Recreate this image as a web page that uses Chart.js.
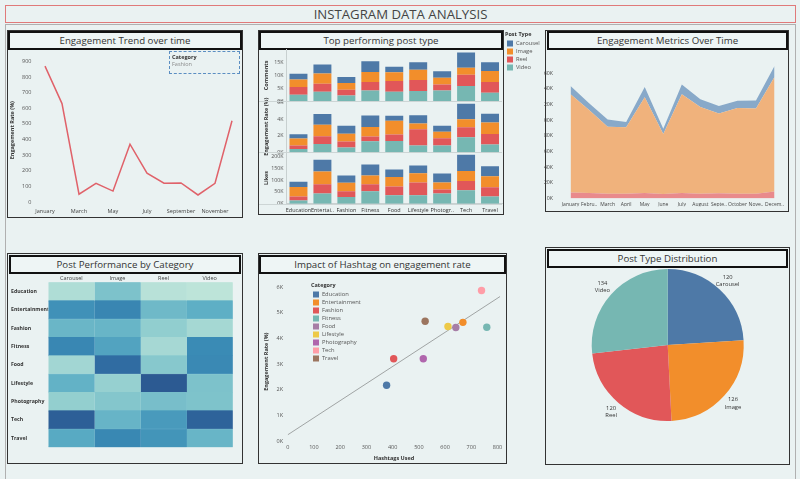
<!DOCTYPE html>
<html>
<head>
<meta charset="utf-8">
<title>Instagram Data Analysis</title>
<script src="https://cdn.jsdelivr.net/npm/chart.js@4.4.1/dist/chart.umd.min.js"></script>
<style>
  body { margin:0; width:800px; height:479px; background:#eaf2f2; position:relative; overflow:hidden; font-family:"Open Sans", sans-serif; color:#333; }
  .frame { position:absolute; box-sizing:border-box; }
  .panel { position:absolute; box-sizing:border-box; border:1px solid #333; }
  .head { position:absolute; box-sizing:border-box; border:2px solid #111; text-align:center; font-size:9.7px; line-height:15px; color:#333; background:#eef5f5; }
  canvas { position:absolute; }
  #filter { position:absolute; left:169px; top:51px; width:71px; height:23px; box-sizing:border-box; border:1px dashed #5b8ec2; font-size:5.5px; line-height:7px; padding:2px 0 0 2px; }
</style>
</head>
<body>
<div class="frame" style="left:5px;top:5px;width:791px;height:18px;border:1px solid #e07a7a;text-align:center;font-size:13.2px;line-height:17px;color:#444">INSTAGRAM DATA ANALYSIS</div>
<div class="frame" style="left:5px;top:24px;width:791px;height:460px;border:1px solid #b0b0b0"></div>

<div class="panel" style="left:7px;top:30px;width:236px;height:188px"></div>
<div class="head" style="left:8px;top:31px;width:234px;height:19px">Engagement Trend over time</div>
<canvas id="trend" width="232" height="166" style="left:9px;top:50px"></canvas>
<div id="filter"><b style="color:#333">Category</b><br><span style="color:#8a8a8a">Fashion</span></div>

<div class="panel" style="left:258px;top:30px;width:246px;height:185px"></div>
<div class="head" style="left:259px;top:31px;width:244px;height:19px">Top performing post type</div>
<canvas id="types" width="285" height="184" style="left:259px;top:31px"></canvas>

<div class="panel" style="left:545px;top:30px;width:244px;height:182px"></div>
<div class="head" style="left:547px;top:31px;width:241px;height:19px">Engagement Metrics Over Time</div>
<canvas id="metrics" width="243" height="160" style="left:544px;top:50px"></canvas>

<div class="panel" style="left:7px;top:253px;width:236px;height:211px"></div>
<div class="head" style="left:9px;top:255px;width:232px;height:19px">Post Performance by Category</div>
<canvas id="heat" width="232" height="188" style="left:9px;top:274px"></canvas>

<div class="panel" style="left:258px;top:253px;width:249px;height:211px"></div>
<div class="head" style="left:259px;top:255px;width:247px;height:19px">Impact of Hashtag on engagement rate</div>
<canvas id="hashtag" width="245" height="188" style="left:260px;top:274px"></canvas>

<div class="panel" style="left:545px;top:247px;width:245px;height:218px"></div>
<div class="head" style="left:547px;top:249px;width:241px;height:19px">Post Type Distribution</div>
<canvas id="share" width="240" height="194" style="left:547px;top:268px"></canvas>

<script>
// ---- data ----
const months = ['January','February','March','April','May','June','July','August','September','October','November','December'];
const fashionEngagement = [870, 630, 50, 120, 70, 370, 185, 120, 122, 45, 120, 520];

const categories = ['Education','Entertainment','Fashion','Fitness','Food','Lifestyle','Photography','Tech','Travel'];
const categoryTicks = ['Education','Entertai..','Fashion','Fitness','Food','Lifestyle','Photogr..','Tech','Travel'];
const postTypes = ['Carousel','Image','Reel','Video'];
const typeColors = ['#4e79a7','#f28e2b','#e15759','#76b7b2'];

const commentsCarousel = [2180, 3460, 2310, 4230, 2050, 2950, 2560, 5900, 3460];
const commentsImage    = [2950, 3970, 2560, 3850, 3460, 3970, 2560, 2690, 4230];
const commentsReel     = [2940, 3080, 2180, 3210, 4100, 4230, 2310, 4360, 4100];
const commentsVideo    = [2440, 3590, 2180, 4100, 3590, 3850, 4100, 5770, 3210];

const erCarousel = [500, 1290, 950, 1390, 600, 990, 710, 1870, 1070];
const erImage    = [840, 1400, 960, 1130, 1680, 690, 800, 970, 1380];
const erReel     = [440, 920, 720, 570, 780, 1950, 870, 1210, 1260];
const erVideo    = [400, 1020, 580, 1350, 1370, 840, 830, 1820, 960];

const likesCarousel = [23000, 50000, 31000, 47000, 32000, 33000, 39000, 69000, 43000];
const likesImage    = [40000, 54000, 36000, 37000, 41000, 40000, 29000, 43000, 47000];
const likesReel     = [17000, 40000, 24000, 30000, 37000, 54000, 18000, 40000, 39000];
const likesVideo    = [14000, 43000, 29000, 53000, 36000, 36000, 43000, 57000, 31000];

const monthTicks = ['January','Febru..','March','April','May','June','July','August','Septe..','October','Nove..','Decem..'];
const sharesByMonth   = [7800, 7000, 6300, 6300, 7000, 5900, 7000, 6300, 6700, 6300, 6300, 9000];
const likesByMonth    = [125200, 106000, 85500, 84700, 122400, 76500, 126000, 110600, 101900, 109400, 108700, 146000];
const commentsByMonth = [10500, 8600, 9000, 6600, 13000, 6600, 12500, 9800, 9400, 9000, 10000, 14000];

const hashtagsUsed = [377, 668, 404, 759, 641, 611, 517, 739, 524];
const hashtagEngagement = [2180, 4630, 3210, 4440, 4430, 4470, 3210, 5870, 4670];
const categoryColors = ['#4e79a7','#f28e2b','#e15759','#76b7b2','#a77ea6','#edc948','#b066ad','#ff9da7','#9c755f'];

const postCounts = [120, 126, 120, 134];

// ---- shared setup ----
Chart.defaults.font.family = '"Open Sans", sans-serif';
Chart.defaults.font.size = 6;
Chart.defaults.color = '#555';
Chart.defaults.animation = false;
Chart.defaults.responsive = false;
Chart.defaults.devicePixelRatio = 1;
Chart.defaults.plugins.tooltip.enabled = false;
Chart.defaults.plugins.legend.display = false;

const noGrid = { display: false, drawTicks: false };
const noBorder = { display: false };
const kFmt = v => (v / 1000) + 'K';
const axisTitle = (text, pad) => ({ display: true, text: text, color: '#333', font: { size: 5.5, weight: 'bold' }, padding: pad });
// ticks on whole steps from 0, not stretched to the axis max
const stepTicks = step => s => {
  const t = [];
  for (let v = 0; v <= s.max + 1e-9; v += step) t.push({ value: v });
  s.ticks = t;
};

// put a legend at a fixed spot of the canvas
const legendAt = {
  id: 'legendAt',
  afterLayout(chart, args, opts) {
    const lg = chart.legend;
    if (!lg || opts.x == null) return;
    const w = lg.width, h = lg.height;
    lg.left = opts.x; lg.top = opts.y;
    lg.right = opts.x + w; lg.bottom = opts.y + h;
  }
};

// 1. engagement trend
new Chart(document.getElementById('trend'), {
  type: 'line',
  data: { labels: months, datasets: [{ data: fashionEngagement, borderColor: '#e0626a', borderWidth: 1.5, pointRadius: 0, tension: 0 }] },
  options: {
    layout: { padding: { left: 0.5, right: 0.5, top: 1, bottom: 0 } },
    scales: {
      x: { offset: true, grid: noGrid, border: noBorder,
           ticks: { autoSkip: false, maxRotation: 0, padding: 6, color: '#444', font: { size: 5.5 }, callback: (v, i) => i % 2 === 0 ? months[i] : '' },
           afterFit: s => { s.height = 14; } },
      y: { min: 0, max: 920, grid: noGrid, border: noBorder,
           afterBuildTicks: stepTicks(100),
           ticks: { padding: 5, font: { size: 5.5 } },
           title: axisTitle('Engagement Rate (%)', { top: 0, bottom: 2 }),
           afterFit: s => { s.width = 27; } }
    }
  }
});

// 2. top performing post type (three stacked rows)
const rows = [
  { id: 'yC', title: 'Comments', max: 19800, step: 5000, sets: [commentsCarousel, commentsImage, commentsReel, commentsVideo] },
  { id: 'yE', title: 'Engagement Rate (%)', max: 6200, step: 2000, sets: [erCarousel, erImage, erReel, erVideo] },
  { id: 'yL', title: 'Likes', max: 219000, step: 50000, sets: [likesCarousel, likesImage, likesReel, likesVideo] }
];
const typeDatasets = [];
rows.forEach(r => {
  [3, 2, 1, 0].forEach(i => {
    typeDatasets.push({ label: postTypes[i], data: r.sets[i], backgroundColor: typeColors[i], yAxisID: r.id,
                        barPercentage: 0.75, categoryPercentage: 1 });
  });
});
const typeScales = {
  x: { stacked: true, grid: noGrid, border: { display: true, color: '#c8d0d0' },
       ticks: { autoSkip: false, maxRotation: 0, padding: 3, color: '#333', font: { size: 5.5 }, callback: (v, i) => categoryTicks[i] },
       afterFit: s => { s.height = 11.3; } }
};
// left stacked axes are laid out last-first, so add them bottom row first
rows.slice().reverse().forEach(r => {
  typeScales[r.id] = {
    type: 'linear', position: 'left', stack: 'rows', stackWeight: 1, stacked: true,
    min: 0, max: r.max, grid: noGrid, border: { display: true, color: '#c8d0d0' },
    afterBuildTicks: stepTicks(r.step),
    ticks: { autoSkip: false, padding: 3, font: { size: 5.3 }, callback: kFmt },
    title: axisTitle(r.title, { top: 2.4, bottom: 1 }),
    afterFit: s => { s.width = 25.5; }
  };
});
const rowLines = {
  id: 'rowLines',
  beforeDatasetsDraw(chart) {
    const { ctx, chartArea } = chart;
    ctx.save();
    ctx.strokeStyle = '#cdd5d5';
    ctx.lineWidth = 1;
    Object.values(chart.scales).filter(s => s.axis === 'y').forEach(s => {
      const y = Math.round(s.bottom) + 0.5;
      ctx.beginPath(); ctx.moveTo(0, y); ctx.lineTo(chartArea.right, y); ctx.stroke();
    });
    ctx.restore();
  }
};
new Chart(document.getElementById('types'), {
  type: 'bar',
  data: { labels: categories, datasets: typeDatasets },
  options: {
    layout: { padding: { left: 2, right: 42, top: 18.7, bottom: 0 } },
    scales: typeScales,
    plugins: {
      legend: { display: true, position: 'chartArea', align: 'start', reverse: true,
        title: { display: true, text: 'Post Type', position: 'start', color: '#333', font: { size: 5.5, weight: 'bold' }, padding: { top: 0, bottom: 0 } },
        labels: { boxWidth: 6, boxHeight: 6, padding: 2, color: '#555', font: { size: 5.8 },
                  filter: item => item.datasetIndex < 4 } },
      legendAt: { x: 246, y: 1 }
    }
  },
  plugins: [legendAt, rowLines]
});

// 3. engagement metrics over time (stacked area)
const areaSet = (label, data, color, fill) => ({ label, data, backgroundColor: color, borderWidth: 0, pointRadius: 0, tension: 0, fill });
new Chart(document.getElementById('metrics'), {
  type: 'line',
  data: { labels: months, datasets: [
    areaSet('Shares', sharesByMonth, '#e98a8c', 'origin'),
    areaSet('Likes', likesByMonth, '#f0b27c', '-1'),
    areaSet('Comments', commentsByMonth, '#88a9c9', '-1')
  ] },
  options: {
    layout: { padding: { left: 0, right: 0.9, top: 0, bottom: 0 } },
    scales: {
      x: { offset: true, grid: noGrid, border: noBorder,
           ticks: { autoSkip: false, maxRotation: 0, padding: 3, color: '#444', font: { size: 5 }, callback: (v, i) => monthTicks[i] },
           afterFit: s => { s.height = 7.7; } },
      y: { stacked: true, min: 0, max: 175000, grid: noGrid, border: noBorder,
           afterBuildTicks: stepTicks(20000),
           ticks: { autoSkip: false, padding: 8.3, color: '#444', font: { size: 5.2 }, callback: kFmt },
           afterFit: s => { s.width = 17.3; } }
    }
  }
});

// 4. heatmap of engagement rate
const erByType = [erCarousel, erImage, erReel, erVideo];
const allEr = erByType.flat();
const erMin = Math.min(...allEr), erMax = Math.max(...allEr);
const heatStops = ['#bde4d9', '#93cfcf', '#5eafc5', '#3b8db6', '#316fa4', '#2c5a92'];
function heatColor(v) {
  const t = Math.max(0, Math.min(1, (v - erMin) / (erMax - erMin))) * (heatStops.length - 1);
  const i = Math.min(Math.floor(t), heatStops.length - 2), f = t - i;
  const a = heatStops[i], b = heatStops[i + 1];
  const ch = k => Math.round(parseInt(a.substr(k, 2), 16) * (1 - f) + parseInt(b.substr(k, 2), 16) * f);
  return 'rgb(' + ch(1) + ',' + ch(3) + ',' + ch(5) + ')';
}
new Chart(document.getElementById('heat'), {
  type: 'bar',
  data: { labels: categories, datasets: postTypes.map((t, i) => ({
    label: t, data: categories.map(() => 1),
    backgroundColor: erByType[i].map(heatColor), borderColor: erByType[i].map(heatColor), borderWidth: 0.5,
    barPercentage: 1, categoryPercentage: 1 })) },
  options: {
    indexAxis: 'y',
    layout: { padding: { left: 2, right: 8.3, top: 0, bottom: 14.7 } },
    scales: {
      x: { stacked: true, position: 'top', min: 0, max: postTypes.length, grid: noGrid, border: noBorder,
           afterBuildTicks: s => { s.ticks = postTypes.map((t, i) => ({ value: i + 0.5 })); },
           ticks: { padding: 1, color: '#444', font: { size: 5.5 }, callback: (v, i) => postTypes[i] },
           afterFit: s => { s.height = 8.3; } },
      y: { stacked: true, grid: noGrid, border: noBorder,
           ticks: { crossAlign: 'far', color: '#333', font: { size: 5.2, weight: 'bold' } },
           afterFit: s => { s.width = 37.3; } }
    }
  }
});

// 5. hashtags vs engagement rate
const hashMax = 810;
const n = hashtagsUsed.length;
const mx = hashtagsUsed.reduce((a, b) => a + b, 0) / n;
const my = hashtagEngagement.reduce((a, b) => a + b, 0) / n;
let sxy = 0, sxx = 0;
hashtagsUsed.forEach((x, i) => { sxy += (x - mx) * (hashtagEngagement[i] - my); sxx += (x - mx) * (x - mx); });
const slope = sxy / sxx, intercept = my - slope * mx;
const hashDatasets = categories.map((c, i) => ({
  type: 'scatter', label: c, data: [{ x: hashtagsUsed[i], y: hashtagEngagement[i] }],
  backgroundColor: categoryColors[i], borderWidth: 0, pointRadius: 3.7, order: 0 }));
hashDatasets.push({ type: 'line', label: '', data: [{ x: 0, y: intercept }, { x: hashMax, y: intercept + slope * hashMax }],
  borderColor: '#a0a4a4', borderWidth: 1, pointRadius: 0, order: 10 });
new Chart(document.getElementById('hashtag'), {
  type: 'scatter',
  data: { datasets: hashDatasets },
  options: {
    layout: { padding: { left: 0, right: 0.6, top: 1.8, bottom: 0 } },
    scales: {
      x: { type: 'linear', min: 0, max: hashMax, grid: noGrid, border: noBorder,
           afterBuildTicks: stepTicks(100),
           ticks: { padding: 2.7, font: { size: 5.5 } },
           title: axisTitle('Hashtags Used', { top: 1, bottom: 0 }),
           afterFit: s => { s.height = 20.7; } },
      y: { min: 0, max: 6200, grid: noGrid, border: noBorder,
           afterBuildTicks: stepTicks(1000),
           ticks: { padding: 4.7, font: { size: 5.5 }, callback: kFmt },
           title: axisTitle('Engagement Rate (%)', { top: 3, bottom: 1 }),
           afterFit: s => { s.width = 27.7; } }
    },
    plugins: {
      legend: { display: true, position: 'chartArea', align: 'start',
        title: { display: true, text: 'Category', position: 'start', color: '#333', font: { size: 5.5, weight: 'bold' }, padding: { top: 0, bottom: 0 } },
        labels: { boxWidth: 6, boxHeight: 6, padding: 2, color: '#555', font: { size: 5.8 }, filter: item => item.text !== '' } },
      legendAt: { x: 51, y: 9 }
    }
  },
  plugins: [legendAt]
});

// 6. post type distribution
const pieLabels = {
  id: 'pieLabels',
  afterDatasetsDraw(chart) {
    const { ctx } = chart;
    const meta = chart.getDatasetMeta(0);
    ctx.save();
    ctx.font = '5.8px "Open Sans", sans-serif';
    ctx.fillStyle = '#333';
    ctx.textAlign = 'center';
    ctx.textBaseline = 'middle';
    meta.data.forEach((arc, i) => {
      const p = arc.getProps(['x', 'y', 'startAngle', 'endAngle', 'outerRadius'], true);
      const a = (p.startAngle + p.endAngle) / 2, r = p.outerRadius + 11.5;
      const lx = p.x + Math.cos(a) * r, ly = p.y + Math.sin(a) * r;
      ctx.fillText(String(chart.data.datasets[0].data[i]), lx, ly - 3.6);
      ctx.fillText(chart.data.labels[i], lx, ly + 3.6);
    });
    ctx.restore();
  }
};
new Chart(document.getElementById('share'), {
  type: 'pie',
  data: { labels: postTypes, datasets: [{ data: postCounts, backgroundColor: typeColors, borderWidth: 0 }] },
  options: { layout: { padding: { left: 44.7, right: 43.3, top: 1, bottom: 41 } } },
  plugins: [pieLabels]
});
</script>
</body>
</html>
